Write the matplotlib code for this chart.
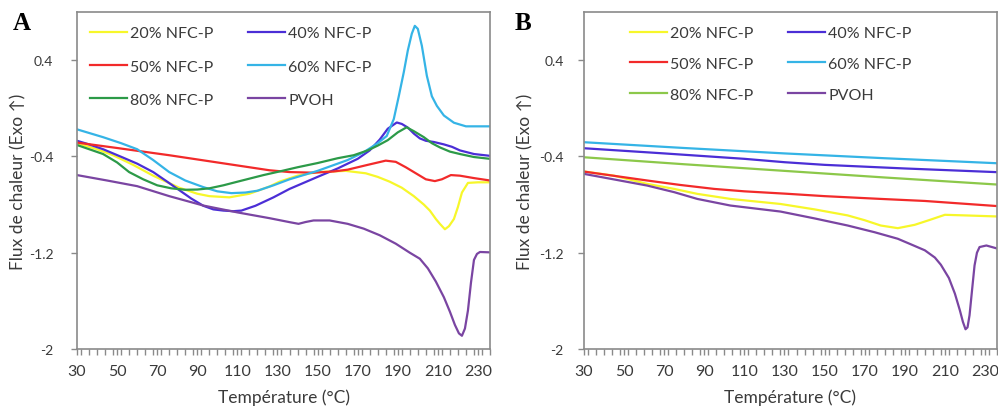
import numpy as np
import matplotlib.pyplot as plt
from matplotlib.ticker import MultipleLocator

plt.rcParams['font.family'] = ['Lato', 'DejaVu Sans']

# --- données (T en °C, flux en W/g) ---
# panneau A
a20_T = [30, 40, 48, 58, 68, 81, 90, 96, 106, 116, 126, 131, 140, 150, 164, 174, 180, 186, 192, 198,
         203, 206, 209, 211, 213.5, 215.5, 218, 220, 222, 225, 230, 236]
a20_v = [-0.29, -0.34, -0.39, -0.47, -0.56, -0.66, -0.71, -0.73, -0.74, -0.71, -0.65, -0.61, -0.56, -0.53,
         -0.52, -0.54, -0.57, -0.61, -0.66, -0.73, -0.80, -0.85, -0.92, -0.96, -1.005, -0.98, -0.92, -0.82,
         -0.70, -0.62, -0.615, -0.615]
a40_T = [30, 36, 43, 53, 60, 68, 75, 81, 87, 93, 98, 103, 108, 112, 119, 128, 136, 150, 160, 170, 176,
         181, 185, 189.5, 192, 195, 198, 201, 204, 208, 213, 217, 221, 228, 236]
a40_v = [-0.27, -0.30, -0.34, -0.41, -0.46, -0.53, -0.61, -0.68, -0.75, -0.81, -0.84, -0.85, -0.855, -0.85,
         -0.81, -0.74, -0.67, -0.57, -0.50, -0.42, -0.35, -0.26, -0.17, -0.118, -0.13, -0.16, -0.21, -0.25,
         -0.27, -0.28, -0.30, -0.32, -0.35, -0.38, -0.395]
a50_T = [30, 50, 76, 100, 126, 136, 148, 158, 165, 175, 184, 189, 194, 198, 204, 208.5, 212, 216.5, 221, 228, 236]
a50_v = [-0.285, -0.33, -0.39, -0.45, -0.515, -0.53, -0.535, -0.525, -0.51, -0.47, -0.435, -0.445, -0.49,
         -0.53, -0.59, -0.605, -0.59, -0.555, -0.56, -0.58, -0.60]
a60_T = [30, 43, 52, 60, 68, 76, 84, 93, 100, 107, 114, 120, 128, 136, 150, 165, 173, 180, 184.5, 188,
         190.5, 193, 195, 197, 198.5, 200, 202, 204.5, 207, 209.5, 213, 218, 224, 230, 236]
a60_v = [-0.175, -0.24, -0.29, -0.34, -0.43, -0.53, -0.60, -0.655, -0.69, -0.705, -0.70, -0.685, -0.64,
         -0.59, -0.52, -0.43, -0.365, -0.29, -0.23, -0.09, 0.10, 0.30, 0.48, 0.62, 0.685, 0.66, 0.52, 0.27,
         0.10, 0.02, -0.06, -0.12, -0.15, -0.15, -0.15]
a80_T = [30, 43, 50, 56, 63, 70, 77, 84, 90, 96, 103, 110, 123, 131, 140, 150, 160, 168, 175, 180, 185,
         190, 194.4, 198, 203, 207, 211, 216, 221, 228, 236]
a80_v = [-0.305, -0.38, -0.45, -0.53, -0.59, -0.64, -0.665, -0.677, -0.675, -0.665, -0.64, -0.61, -0.555,
         -0.525, -0.49, -0.455, -0.415, -0.39, -0.35, -0.31, -0.265, -0.20, -0.158, -0.19, -0.24, -0.29,
         -0.325, -0.36, -0.38, -0.405, -0.42]
apv_T = [30, 45, 60, 76, 93, 110, 126, 136, 140.5, 144, 148, 156, 165, 173, 181, 189, 196, 201, 205, 209,
         213, 216, 218.5, 220.5, 222, 223.5, 225, 226.5, 228, 229.5, 231, 236]
apv_v = [-0.555, -0.60, -0.647, -0.73, -0.808, -0.865, -0.913, -0.946, -0.96, -0.945, -0.932, -0.932,
         -0.96, -1.0, -1.055, -1.125, -1.2, -1.25, -1.33, -1.44, -1.57, -1.69, -1.80, -1.87, -1.89, -1.83,
         -1.68, -1.45, -1.26, -1.21, -1.194, -1.197]

# panneau B
b20_T = [30, 45, 61.5, 75, 86.5, 103, 128, 145, 161.5, 170, 178, 186.5, 195, 202, 210, 220, 236.5]
b20_v = [-0.525, -0.56, -0.628, -0.67, -0.711, -0.753, -0.795, -0.84, -0.89, -0.93, -0.974, -0.996,
         -0.968, -0.93, -0.885, -0.89, -0.899]
b40_T = [30, 70, 110, 130, 150, 190, 236.5]
b40_v = [-0.332, -0.375, -0.42, -0.448, -0.47, -0.50, -0.531]
b50_T = [30, 61.5, 78, 95, 110, 131, 150, 178, 200, 236.5]
b50_v = [-0.526, -0.60, -0.637, -0.67, -0.69, -0.71, -0.73, -0.753, -0.77, -0.813]
b60_T = [30, 80, 130, 180, 236.5]
b60_v = [-0.282, -0.33, -0.375, -0.415, -0.457]
b80_T = [30, 80, 130, 180, 236.5]
b80_v = [-0.407, -0.465, -0.52, -0.575, -0.634]
bpv_T = [30, 61.5, 75, 86.5, 103, 128, 145, 161.5, 175, 186.5, 193, 200, 205, 208, 212, 215, 217.5, 219,
         220.3, 221.3, 222.3, 223.5, 224.8, 226, 227.3, 230.7, 236.5]
bpv_v = [-0.545, -0.642, -0.697, -0.753, -0.808, -0.858, -0.915, -0.974, -1.03, -1.084, -1.13, -1.18,
         -1.24, -1.30, -1.41, -1.54, -1.68, -1.775, -1.836, -1.82, -1.72, -1.52, -1.306, -1.20, -1.153,
         -1.14, -1.167]

labels = ['20% NFC-P', '40% NFC-P', '50% NFC-P', '60% NFC-P', '80% NFC-P', 'PVOH']
x_ticks = [30, 50, 70, 90, 110, 130, 150, 170, 190, 210, 230]
y_ticks = [-2, -1.2, -0.4, 0.4]
y_ticklabels = ['-2', '-1.2', '-0.4', '0.4']

colors_A = ['#f7f72a', '#4b2ed6', '#f22a2a', '#35b4e6', '#2c9a48', '#7a45a2']
colors_B = ['#f7f72a', '#4b2ed6', '#f22a2a', '#35b4e6', '#8cc84a', '#7a45a2']

dataA = [(a20_T, a20_v), (a40_T, a40_v), (a50_T, a50_v), (a60_T, a60_v), (a80_T, a80_v), (apv_T, apv_v)]
dataB = [(b20_T, b20_v), (b40_T, b40_v), (b50_T, b50_v), (b60_T, b60_v), (b80_T, b80_v), (bpv_T, bpv_v)]

grey = '#8a8a8a'
txt = '#3a3a3a'

fig = plt.figure(figsize=(9.98, 4.10), dpi=100)
axA = fig.add_axes([77/998, 60/410, 413/998, 337/410])
axB = fig.add_axes([584/998, 60/410, 413/998, 337/410])


def panel(ax, data, colors, leg_x, spacing, ypad):
    lines = []
    for (T, v), c, lab in zip(data, colors, labels):
        l, = ax.plot(T, v, color=c, lw=1.6, label=lab)
        lines.append(l)
    ax.set_xlim(30, 236)
    ax.set_ylim(-2, 0.8)
    ax.set_xticks(x_ticks)
    ax.xaxis.set_minor_locator(MultipleLocator(4))
    ax.set_yticks(y_ticks)
    ax.set_yticklabels(y_ticklabels)
    for s in ax.spines.values():
        s.set_color(grey)
        s.set_linewidth(1.2)
    ax.tick_params(axis='x', which='both', direction='out', length=4, width=1, color=grey,
                   labelsize=11.5, labelcolor=txt, pad=7)
    ax.tick_params(axis='y', direction='out', length=4, width=1, color=grey,
                   labelsize=10, labelcolor=txt, pad=ypad)
    ax.set_xlabel('Température (°C)', fontsize=12.5, color=txt)
    ax.set_ylabel('Flux de chaleur (Exo ↑)', fontsize=12.5, color=txt)
    ax.xaxis.set_label_coords(0.5, -0.116)
    ax.yaxis.set_label_coords(-0.122, 0.5)
    # ordre des colonnes : 20/50/80 puis 40/60/PVOH
    order = [0, 2, 4, 1, 3, 5]
    ax.legend([lines[i] for i in order], [labels[i] for i in order], ncol=2, frameon=False,
              loc='upper left', bbox_to_anchor=(leg_x, 0.958), borderaxespad=0, borderpad=0,
              fontsize=11.5, handlelength=2.3, handletextpad=0.2, columnspacing=2.2,
              labelspacing=spacing, labelcolor=txt)


panel(axA, dataA, colors_A, 0.031, 1.19, 13)
panel(axB, dataB, colors_B, 0.111, 1.03, 10.5)

fig.text(13/998, 1 - 24/410, 'A', fontsize=18, fontweight='bold', family='Liberation Serif', va='center')
fig.text(515/998, 1 - 24/410, 'B', fontsize=18, fontweight='bold', family='Liberation Serif', va='center')

plt.savefig('out.png', dpi=100)
